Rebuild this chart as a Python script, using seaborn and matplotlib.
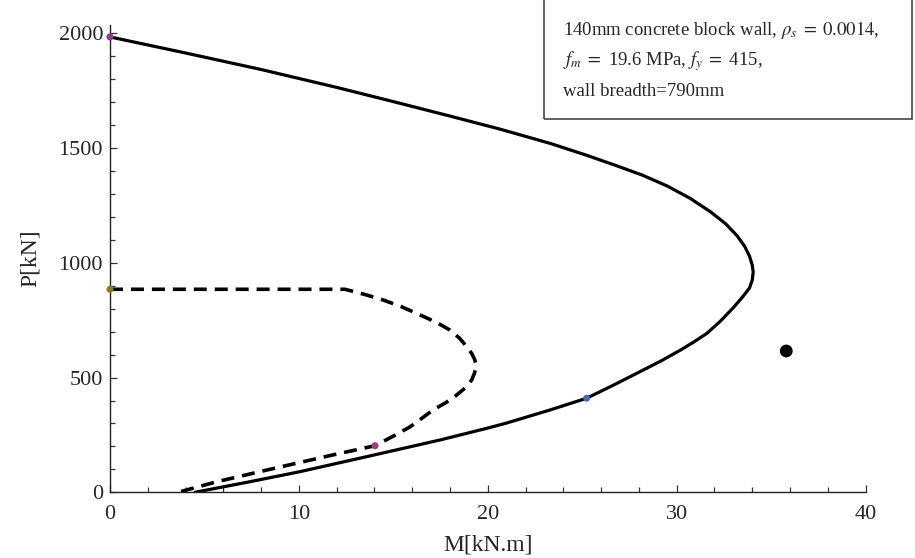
import matplotlib
matplotlib.use("Agg")
import matplotlib.pyplot as plt
import seaborn as sns
import pandas as pd
from matplotlib.patches import Rectangle
from matplotlib.ticker import MultipleLocator

# ---- data ----
solid_M = [0, 4, 8, 12, 15, 18.0, 20.65, 23.3, 25.2, 26.8, 28.2, 29.5, 30.7, 31.8, 32.6,
           33.2, 33.6, 33.85, 34.0, 34.05, 34.0, 33.85, 33.5, 33.0, 32.3, 31.6, 30.9,
           30.2, 29.2, 28.06, 26.6, 25.23, 23.3, 21.0, 20.0, 17.47, 14.0, 10.06, 7.4, 4.5]
solid_P = [1985, 1915, 1843, 1765, 1703, 1640, 1583, 1521, 1470, 1424, 1382, 1335, 1282,
           1222, 1170, 1118, 1072, 1030, 990, 960, 925, 890, 853, 805, 745, 693, 655,
           620, 574, 526, 465, 410, 359, 302, 280, 228, 163, 90, 46, 0]

dash_M = [0, 12.44, 13.5, 14.47, 15.4, 16.23, 17.3, 18.0, 18.5, 18.88, 19.15, 19.3, 19.38,
          19.3, 19.15, 18.8, 18.35, 17.8, 17.1, 16.5, 15.9, 15.0, 14.03,
          11.8, 8.3, 5.65, 3.6]
dash_P = [885, 885, 862, 838, 810, 780, 740, 707, 672, 635, 605, 580, 555,
          520, 490, 455, 424, 392, 359, 322, 286, 245, 203,
          163, 97, 46, 0]

pts_M = [0, 0, 14.03, 25.23]
pts_P = [1985, 885, 203, 410]
pts_col = ["#8e3c8e", "#8a7a2a", "#a0407a", "#4a6aae"]

load_M = [35.8]
load_P = [616]

x_ticks = [0, 10, 20, 30, 40]
y_ticks = [0, 500, 1000, 1500, 2000]

sns.set_style("ticks")
plt.rcParams['font.family'] = ['Liberation Serif', 'DejaVu Serif']
plt.rcParams['mathtext.fontset'] = 'stix'

fig = plt.figure(figsize=(9.15, 5.58), dpi=100)
ax = fig.add_axes([110/915, 65.7/558, 755.6/915, 467.3/558])

df_s = pd.DataFrame({"M": solid_M, "P": solid_P})
df_d = pd.DataFrame({"M": dash_M, "P": dash_P})
sns.lineplot(data=df_s, x="M", y="P", sort=False, estimator=None, color="black",
             lw=2.3, ax=ax)
sns.lineplot(data=df_d, x="M", y="P", sort=False, estimator=None, color="black",
             lw=2.6, ax=ax, linestyle=(0, (3.6, 2.2)))
for ln in ax.get_lines():
    ln.set_solid_joinstyle("round")
    ln.set_dash_joinstyle("round")
sns.scatterplot(x=pts_M, y=pts_P, hue=[str(i) for i in range(len(pts_M))],
                palette=pts_col, s=26, edgecolor="none", legend=False, ax=ax,
                clip_on=False, zorder=5)
sns.scatterplot(x=load_M, y=load_P, color="black", s=85, edgecolor="none",
                legend=False, ax=ax, zorder=5)

ax.set_xlim(0, 40)
ax.set_ylim(0, 2037)
ax.set_xticks(x_ticks)
ax.set_yticks(y_ticks)
ax.xaxis.set_minor_locator(MultipleLocator(2))
ax.yaxis.set_minor_locator(MultipleLocator(100))
ax.tick_params(which="both", direction="in", color="#333333", width=0.9,
               labelsize=16)
ax.tick_params(which="major", length=5)
ax.tick_params(which="minor", length=3.5)
ax.tick_params(axis="x", pad=9)
ax.tick_params(axis="y", pad=5)
for s in ["top", "right"]:
    ax.spines[s].set_visible(False)
for s in ["left", "bottom"]:
    ax.spines[s].set_linewidth(1.0)
    ax.spines[s].set_color("#222222")

ax.set_xlabel("M[kN.m]", fontsize=17, labelpad=8)
ax.set_ylabel("P[kN]", fontsize=17, labelpad=13)

# annotation box
fig.patches.append(Rectangle((544/915, 1 - 119/558), (912-544)/915, 119/558 + 0.01,
                             transform=fig.transFigure, fill=False,
                             edgecolor="#444444", lw=1.2))
fs = 13.5
fig.text(563/915, 1 - 30/558, r"140mm concrete block wall, $\rho_s\;=\;0.0014$,",
         fontsize=fs, va="center", ha="left")
fig.text(563/915, 1 - 61/558, r"$f_m\;=$ 19.6 MPa, $f_y\;=$ 415,",
         fontsize=fs, va="center", ha="left")
fig.text(563/915, 1 - 91/558, "wall breadth=790mm",
         fontsize=fs, va="center", ha="left")

fig.savefig("out.png", dpi=100)
